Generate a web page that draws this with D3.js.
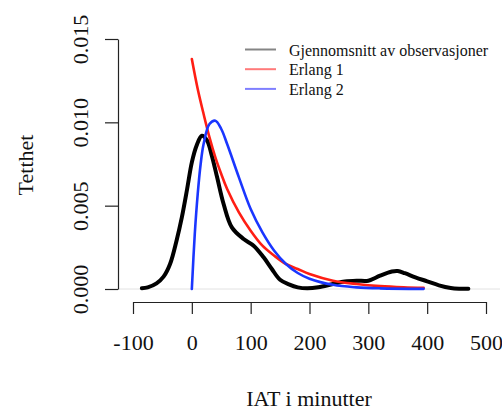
<!DOCTYPE html>
<html>
<head>
<meta charset="utf-8">
<script src="https://cdn.jsdelivr.net/npm/d3@7"></script>
<style>
  body { margin: 0; background: #fff; }
  svg { display: block; font-family: "Liberation Serif", "Times New Roman", serif; }
</style>
</head>
<body>
<svg id="chart" width="502" height="410"></svg>
<script>
let obsX = [-85, -75, -60, -48, -37, -26, -17, -8, 0, 8, 17, 26, 34, 43, 54, 68, 88, 105, 122, 136, 150, 165, 180, 196, 215, 240, 260, 280, 300, 320, 340, 350, 362, 380, 400, 420, 440, 455, 470]
let obsY = [0.00005, 0.0001, 0.00034, 0.00074, 0.0015, 0.0029, 0.0043, 0.0060, 0.0076, 0.0086, 0.0092, 0.0089, 0.0080, 0.0067, 0.0051, 0.0037, 0.0030, 0.0026, 0.0019, 0.0012, 0.00055, 0.00028, 0.0001, 0.00004, 0.0001, 0.0003, 0.00045, 0.0005, 0.0005, 0.0008, 0.00105, 0.00108, 0.00095, 0.0007, 0.00046, 0.00022, 0.00006, 0.00002, 0.00002]

// Erlang 1
let erl1X = [0, 10, 20, 30, 40, 50, 60, 80, 100, 120, 140, 160, 180, 200, 240, 280, 320, 360, 394]
let erl1Y = [0.0138, 0.0120, 0.0105, 0.0091, 0.0079, 0.0069, 0.0060, 0.0046, 0.0035, 0.0026, 0.0020, 0.0015, 0.0012, 0.0009, 0.0005, 0.0003, 0.00017, 0.0001, 0.00007]

// Erlang 2
let erl2X = [0, 5, 10, 15, 20, 30, 40, 50, 60, 80, 100, 120, 140, 160, 180, 200, 240, 280, 320, 394]
let erl2Y = [0, 0.0033, 0.0057, 0.0075, 0.0087, 0.0099, 0.0101, 0.0096, 0.0087, 0.0067, 0.0048, 0.0034, 0.0023, 0.0015, 0.00096, 0.00062, 0.00025, 0.0001, 0.00004, 0.00001]

let xTicks = [-100, 0, 100, 200, 300, 400, 500]
let yTicks = [0, 0.005, 0.010, 0.015]

let legendLabels = ['Gjennomsnitt av observasjoner', 'Erlang 1', 'Erlang 2']
let legendColors = ['#858585', '#ff7a7a', '#7f7fff']

const serif = '"Liberation Serif", "Times New Roman", serif'
const svg = d3.select('#chart')

let x = d3.scaleLinear().domain([-100, 500]).range([133, 486])
let y = d3.scaleLinear().domain([0, 0.015]).range([289, 39])

// faint zero line
svg.append('line')
  .attr('x1', 118).attr('x2', 500)
  .attr('y1', y(0)).attr('y2', y(0))
  .attr('stroke', '#e2e2e2')
  .attr('stroke-width', 1)

// x axis
svg.append('g')
  .attr('transform', 'translate(0,302)')
  .call(d3.axisBottom(x).tickValues(xTicks).tickSize(12).tickSizeOuter(0).tickFormat(d3.format('d')))
  .attr('font-family', serif)
  .attr('font-size', 22)
  .call(g => g.selectAll('path, line').attr('stroke', '#222').attr('stroke-width', 1.2))
  .call(g => g.selectAll('text')
    .attr('y', 48).attr('dy', 0)
    .attr('fill', '#111')
    .text(d => d < 0 ? '-' + Math.abs(d) : d))

// y axis
svg.append('g')
  .attr('transform', 'translate(118,0)')
  .call(d3.axisLeft(y).tickValues(yTicks).tickSize(13).tickSizeOuter(0).tickFormat(d3.format('.3f')))
  .attr('font-family', serif)
  .attr('font-size', 22)
  .call(g => g.selectAll('path, line').attr('stroke', '#222').attr('stroke-width', 1.2))
  .call(g => g.selectAll('text')
    .attr('transform', 'rotate(-90)')
    .attr('x', 0).attr('y', -30).attr('dy', 0)
    .attr('text-anchor', 'middle')
    .attr('fill', '#111'))

// axis titles
svg.append('text')
  .attr('x', 309).attr('y', 406)
  .attr('text-anchor', 'middle')
  .style('font-size', '22px')
  .attr('fill', '#111')
  .text('IAT i minutter')

svg.append('text')
  .attr('transform', 'translate(33,165) rotate(-90)')
  .attr('text-anchor', 'middle')
  .style('font-size', '22px')
  .attr('fill', '#111')
  .text('Tetthet')

let line = d3.line()
  .x(d => x(d[0]))
  .y(d => y(d[1]))
  .curve(d3.curveCatmullRom.alpha(0.5))

let series = [
  {xs: obsX, ys: obsY, color: '#000', width: 4},
  {xs: erl1X, ys: erl1Y, color: '#ff1e14', width: 2.6},
  {xs: erl2X, ys: erl2Y, color: '#1a36ff', width: 2.6}
]

svg.append('g')
  .selectAll('path')
  .data(series)
  .join('path')
    .attr('d', s => line(s.xs.map((v, i) => [v, s.ys[i]])))
    .attr('fill', 'none')
    .attr('stroke', s => s.color)
    .attr('stroke-width', s => s.width)
    .attr('stroke-linejoin', 'round')
    .attr('stroke-linecap', 'round')

// legend
const legend = svg.append('g')
  .selectAll('g')
  .data(legendLabels)
  .join('g')
    .attr('transform', (d, i) => `translate(245,${49.5 + i * 19.7})`)

legend.append('line')
  .attr('x1', 0).attr('x2', 31)
  .attr('stroke', (d, i) => legendColors[i])
  .attr('stroke-width', 2)

legend.append('text')
  .attr('x', 44).attr('y', 6)
  .style('font-size', '16px')
  .attr('fill', '#111')
  .text(d => d)
</script>
</body>
</html>
